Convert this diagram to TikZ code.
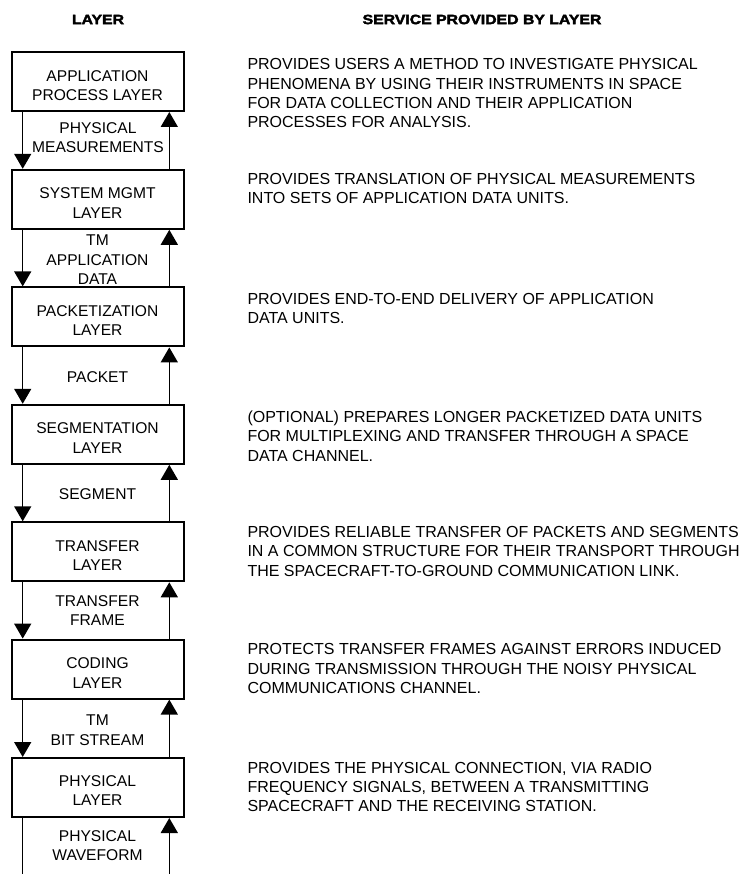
\documentclass[tikz,border=0pt]{standalone}
\usepackage{fontspec}
\setmainfont{Liberation Sans}
\newfontfamily\hdrfont[FakeBold=2.5]{Liberation Sans}
\usetikzlibrary{arrows.meta}
\begin{document}
\begin{tikzpicture}[x=1pt,y=-1pt,
  layerbox/.style={draw=black, line width=2pt, minimum width=172pt, minimum height=59pt, inner sep=0pt},
  boxtext/.style={anchor=north, inner sep=0pt, align=center, font=\fontsize{15.6}{19.4}\selectfont},
  flowlabel/.style={anchor=north, inner sep=0pt, align=center, font=\fontsize{15.6}{19.4}\selectfont},
  service/.style={anchor=north west, inner sep=0pt, align=left, font=\fontsize{16}{19.4}\selectfont},
  header/.style={inner sep=0pt, font=\hdrfont\fontsize{13.5}{16}\selectfont\bfseries},
  flow/.style={line width=1.5pt, -{Triangle[length=15pt,width=17pt]}},
  plainline/.style={line width=1.5pt},
]
\useasboundingbox (0,0) rectangle (743,874);

% headers
\node[header] (hlayer) at (98,19.5) {\scalebox{1.17}[1]{LAYER}};
\node[header] (hservice) at (482,19.5) {\scalebox{1.17}[1]{SERVICE PROVIDED BY LAYER}};

% layer boxes
\node[layerbox] (app) at (97.5,81.5) {};
\node[layerbox] (sys) at (97.5,199.3) {};
\node[layerbox] (pkt) at (97.5,316.9) {};
\node[layerbox] (seg) at (97.5,434.3) {};
\node[layerbox] (trf) at (97.5,551.8) {};
\node[layerbox] (cod) at (97.5,669.1) {};
\node[layerbox] (phy) at (97.5,787.5) {};

% box texts
\node[boxtext] (appt) at (97.5,70) {APPLICATION\\PROCESS LAYER};
\node[boxtext] (syst) at (97.5,187.8) {SYSTEM MGMT\\LAYER};
\node[boxtext] (pktt) at (97.5,305.4) {PACKETIZATION\\LAYER};
\node[boxtext] (segt) at (97.5,422.8) {SEGMENTATION\\LAYER};
\node[boxtext] (trft) at (97.5,540.3) {TRANSFER\\LAYER};
\node[boxtext] (codt) at (97.5,657.6) {CODING\\LAYER};
\node[boxtext] (phyt) at (97.5,775) {PHYSICAL\\LAYER};

% labels between boxes
\node[flowlabel] (l1) at (98,122.3) {PHYSICAL\\MEASUREMENTS};
\node[flowlabel] (l2) at (97.5,235) {TM\\APPLICATION\\DATA};
\node[flowlabel] (l3) at (97.5,371.7) {PACKET};
\node[flowlabel] (l4) at (97.5,488) {SEGMENT};
\node[flowlabel] (l5) at (97.5,595) {TRANSFER\\FRAME};
\node[flowlabel] (l6) at (97.5,715) {TM\\BIT STREAM};
\node[flowlabel] (l7) at (97.5,830) {PHYSICAL\\WAVEFORM};

% arrows
\draw[flow] ([xshift=-74.8]app.south) -- ([xshift=-74.8]sys.north);
\draw[flow] ([xshift=71.8]sys.north) -- ([xshift=71.8]app.south);
\draw[flow] ([xshift=-74.8]sys.south) -- ([xshift=-74.8]pkt.north);
\draw[flow] ([xshift=71.8]pkt.north) -- ([xshift=71.8]sys.south);
\draw[flow] ([xshift=-74.8]pkt.south) -- ([xshift=-74.8]seg.north);
\draw[flow] ([xshift=71.8]seg.north) -- ([xshift=71.8]pkt.south);
\draw[flow] ([xshift=-74.8]seg.south) -- ([xshift=-74.8]trf.north);
\draw[flow] ([xshift=71.8]trf.north) -- ([xshift=71.8]seg.south);
\draw[flow] ([xshift=-74.8]trf.south) -- ([xshift=-74.8]cod.north);
\draw[flow] ([xshift=71.8]cod.north) -- ([xshift=71.8]trf.south);
\draw[flow] ([xshift=-74.8]cod.south) -- ([xshift=-74.8]phy.north);
\draw[flow] ([xshift=71.8]phy.north) -- ([xshift=71.8]cod.south);
\coordinate (endL) at (22.7,874);
\coordinate (endR) at (169.3,874);
\draw[plainline] ([xshift=-74.8]phy.south) -- (endL);
\draw[flow] (endR) -- ([xshift=71.8]phy.south);

% service descriptions
\node[service] (s1) at (247.3,58.3) {PROVIDES USERS A METHOD TO INVESTIGATE PHYSICAL\\PHENOMENA BY USING THEIR INSTRUMENTS IN SPACE\\FOR DATA COLLECTION AND THEIR APPLICATION\\PROCESSES FOR ANALYSIS.};
\node[service] (s2) at (247.3,172.7) {PROVIDES TRANSLATION OF PHYSICAL MEASUREMENTS\\INTO SETS OF APPLICATION DATA UNITS.};
\node[service] (s3) at (247.3,292.7) {PROVIDES END-TO-END DELIVERY OF APPLICATION\\DATA UNITS.};
\node[service] (s4) at (247.3,410.7) {(OPTIONAL) PREPARES LONGER PACKETIZED DATA UNITS\\FOR MULTIPLEXING AND TRANSFER THROUGH A SPACE\\DATA CHANNEL.};
\node[service] (s5) at (247.3,526) {PROVIDES RELIABLE TRANSFER OF PACKETS AND SEGMENTS\\IN A COMMON STRUCTURE FOR THEIR TRANSPORT THROUGH\\THE SPACECRAFT-TO-GROUND COMMUNICATION LINK.};
\node[service] (s6) at (247.3,643.3) {PROTECTS TRANSFER FRAMES AGAINST ERRORS INDUCED\\DURING TRANSMISSION THROUGH THE NOISY PHYSICAL\\COMMUNICATIONS CHANNEL.};
\node[service] (s7) at (247.3,761.7) {PROVIDES THE PHYSICAL CONNECTION, VIA RADIO\\FREQUENCY SIGNALS, BETWEEN A TRANSMITTING\\SPACECRAFT AND THE RECEIVING STATION.};
\end{tikzpicture}
\end{document}
